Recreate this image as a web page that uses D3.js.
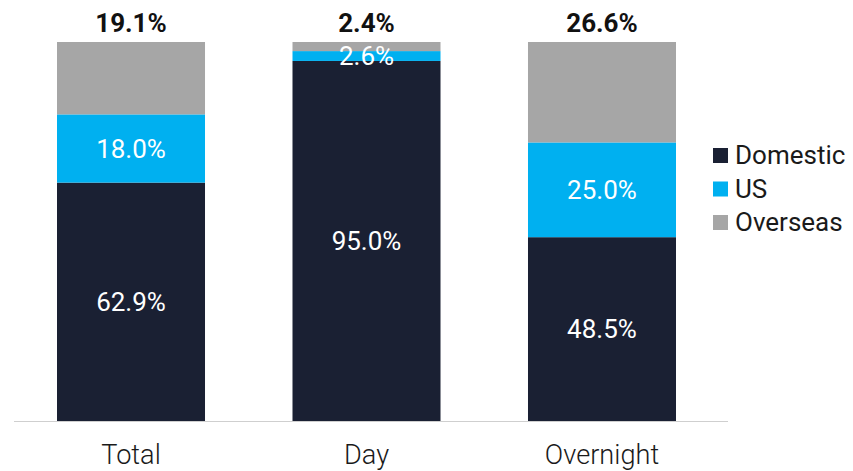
<!DOCTYPE html>
<html><head><meta charset="utf-8">
<script src="https://cdn.jsdelivr.net/npm/d3@7"></script>
<style>body{margin:0;background:#fff}svg{display:block}</style>
</head><body>
<svg id="c" width="853" height="471"></svg>
<script>
const categories = ["Total", "Day", "Overnight"];
const seriesNames = ["Domestic", "US", "Overseas"];
const domestic = [62.9, 95.0, 48.5];
const us = [18.0, 2.6, 25.0];
const overseas = [19.1, 2.4, 26.6];
const colors = ["#1a2033", "#00b0f0", "#a6a6a6"];

const svg = d3.select("#c");
const font = "Roboto, 'Noto Sans', sans-serif";
const x = d3.scaleBand().domain(categories).range([9.9, 723.1]).paddingInner(0.3715).paddingOuter(0.2);
const y = d3.scaleLinear().domain([0, 100]).range([421, 42]);

const rows = categories.map((c, i) => ({cat: c, Domestic: domestic[i], US: us[i], Overseas: overseas[i]}));
const stack = d3.stack().keys(seriesNames)(rows);

stack.forEach((layer, li) => {
  svg.append("g").selectAll("rect").data(layer).join("rect")
    .attr("x", d => x(d.data.cat))
    .attr("width", x.bandwidth())
    .attr("y", d => y(Math.min(d[1], 100)))
    .attr("height", d => y(d[0]) - y(Math.min(d[1], 100)))
    .attr("fill", colors[li]);
});

// inside labels for Domestic and US
stack.slice(0, 2).forEach(layer => {
  svg.append("g").selectAll("text").data(layer).join("text")
    .attr("x", d => x(d.data.cat) + x.bandwidth() / 2)
    .attr("y", d => (y(d[0]) + y(d[1])) / 2)
    .attr("dy", "0.36em")
    .attr("text-anchor", "middle")
    .attr("fill", "#fff")
    .attr("font-family", font)
    .attr("font-size", 26)
    .text(d => (d[1] - d[0]).toFixed(1) + "%");
});
// Overseas labels above the bars
svg.append("g").selectAll("text").data(rows).join("text")
  .attr("x", d => x(d.cat) + x.bandwidth() / 2)
  .attr("y", 32)
  .attr("text-anchor", "middle")
  .attr("fill", "#111")
  .attr("font-family", font)
  .attr("font-weight", "bold")
  .attr("font-size", 26)
  .text(d => d.Overseas.toFixed(1) + "%");

// baseline
svg.append("line").attr("x1", 14).attr("x2", 728).attr("y1", y(0) + 0.5).attr("y2", y(0) + 0.5)
  .attr("stroke", "#cfcfcf").attr("stroke-width", 1.2);

// x axis labels
const xAxis = d3.axisBottom(x).tickSize(0).tickPadding(22);
const gx = svg.append("g").attr("transform", `translate(0,${y(0)})`).call(xAxis);
gx.select(".domain").remove();
gx.selectAll("text").attr("font-family", font).attr("font-size", 28).attr("font-weight", 300)
  .attr("fill", "#1a1a1a").attr("y", 43).attr("dy", 0);
gx.selectAll("text").each(function() {
  const w = this.getComputedTextLength();
  d3.select(this).attr("textLength", w * 0.97).attr("lengthAdjust", "spacingAndGlyphs");
});

// legend
const lg = svg.append("g").attr("transform", "translate(713,155)");
seriesNames.forEach((n, i) => {
  const g = lg.append("g").attr("transform", `translate(0,${i * 33.5})`);
  g.append("rect").attr("x", 0).attr("y", -7).attr("width", 15).attr("height", 15).attr("fill", colors[i]);
  g.append("text").attr("x", 22).attr("y", 0).attr("dy", "0.36em")
    .attr("font-family", font).attr("font-size", 26).attr("fill", "#1a1a1a").text(n);
});
</script>
</body></html>
